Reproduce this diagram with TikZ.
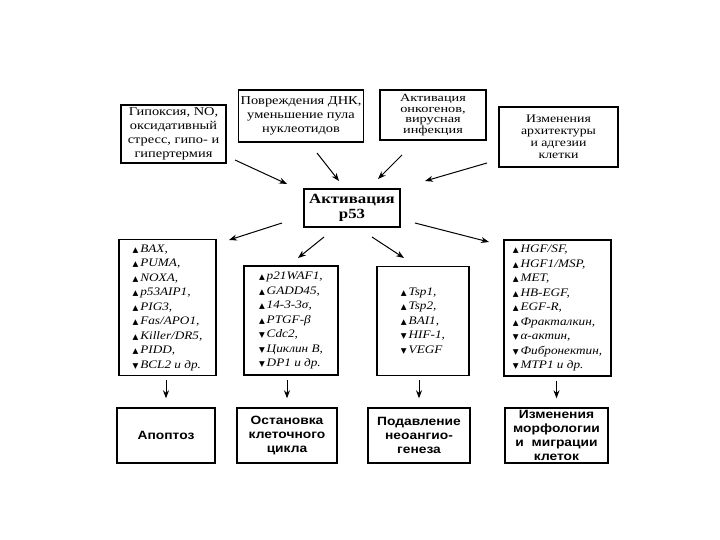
\documentclass[tikz,border=0pt]{standalone}
\usepackage{fontspec}
\setmainfont{Liberation Serif}
\newfontfamily\ser[FakeStretch=1.2]{Liberation Serif}
\newfontfamily\serw[FakeStretch=1.3]{Liberation Serif}
\newfontfamily\seri[FakeStretch=1.15]{Liberation Serif}
\newfontfamily\sanb[FakeStretch=1.15]{Liberation Sans}
\newfontfamily\symf{DejaVu Sans}
\usetikzlibrary{arrows.meta}
\newcommand{\mup}{{\symf\fontsize{7.5}{7.5}\selectfont ▲}\,}
\newcommand{\mdn}{{\symf\fontsize{7.5}{7.5}\selectfont ▼}\,}
\begin{document}
\begin{tikzpicture}[x=1pt,y=-1pt,
  box/.style={draw, line width=1.4pt, inner sep=2pt, align=center},
  topf/.style={font=\ser\fontsize{12}{14}\selectfont},
  listbox/.style={box, align=left, font=\seri\itshape\fontsize{11.5}{14.5}\selectfont},
  resbox/.style={box, minimum height=55pt, font=\sanb\bfseries\fontsize{12}{14}\selectfont},
  arr/.style={-{Stealth[length=8pt,width=6pt]}, line width=1pt}]
\useasboundingbox[fill=white] (0,0) rectangle (720,540);

% top boxes
\node[box, topf, minimum width=105pt, minimum height=58pt] (t1) at (173.5,134)
  {Гипоксия, NO,\\оксидативный\\стресс, гипо- и\\гипертермия};
\node[box, topf, minimum width=122pt, minimum height=52pt] (t2) at (301,116)
  {Повреждения ДНК,\\уменьшение пула\\нуклеотидов};
\node[box, font=\serw\fontsize{11}{10.5}\selectfont, minimum width=106pt, minimum height=50pt] (t3) at (433,115)
  {Активация\\онкогенов,\\вирусная\\инфекция};
\node[box, font=\ser\fontsize{11.5}{12}\selectfont, minimum width=119pt, minimum height=60pt] (t4) at (558.5,137)
  {Изменения\\архитектуры\\и адгезии\\клетки};

% center
\node[box, font=\ser\bfseries\fontsize{14}{15}\selectfont, minimum width=96pt, minimum height=38pt] (c) at (352,208)
  {Активация\\p53};

% list boxes
\node[listbox, minimum width=97pt, minimum height=136pt] (A) at (167.5,307.5)
  {\mup BAX,\\\mup PUMA,\\\mup NOXA,\\\mup p53AIP1,\\\mup PIG3,\\\mup Fas/APO1,\\\mup Killer/DR5,\\\mup PIDD,\\\mdn BCL2 и др.};
\node[listbox, minimum width=94pt, minimum height=109pt] (B) at (291,320.5)
  {\mup p21WAF1,\\\mup GADD45,\\\mup 14-3-3σ,\\\mup PTGF-β\\\mdn Cdc2,\\\mdn Циклин B,\\\mdn DP1 и др.};
\node[listbox, minimum width=92pt, minimum height=109pt] (C) at (423,321)
  {\mup Tsp1,\\\mup Tsp2,\\\mup BAI1,\\\mdn HIF-1,\\\mdn VEGF};
\node[listbox, minimum width=107pt, minimum height=136pt] (D) at (557.5,308)
  {\mup HGF/SF,\\\mup HGF1/MSP,\\\mup MET,\\\mup HB-EGF,\\\mup EGF-R,\\\mup Фракталкин,\\\mdn α-актин,\\\mdn Фибронектин,\\\mdn MTP1 и др.};

% result boxes
\node[resbox, minimum width=98pt] (r1) at (166,435.5) {Апоптоз};
\node[resbox, minimum width=100pt] (r2) at (287,435.5) {Остановка\\клеточного\\цикла};
\node[resbox, minimum width=102pt] (r3) at (419,435.5) {Подавление\\неоангио-\\генеза};
\node[resbox, minimum width=103pt] (r4) at (556.5,435.5) {Изменения\\морфологии\\и \ миграции\\клеток};

% arrows into center
\coordinate (i1s) at (235,160); \coordinate (i1e) at (287,184);
\coordinate (i2s) at (317,153); \coordinate (i2e) at (339,181);
\coordinate (i3s) at (402,155); \coordinate (i3e) at (378,179);
\coordinate (i4s) at (487,163); \coordinate (i4e) at (425,181);
\draw[arr] (i1s) -- (i1e);
\draw[arr] (i2s) -- (i2e);
\draw[arr] (i3s) -- (i3e);
\draw[arr] (i4s) -- (i4e);

% arrows out of center
\coordinate (o1s) at (282,223); \coordinate (o1e) at (229,240);
\coordinate (o2s) at (324,237); \coordinate (o2e) at (298,258);
\coordinate (o3s) at (372,237); \coordinate (o3e) at (404,258);
\coordinate (o4s) at (415,223); \coordinate (o4e) at (489,242);
\draw[arr] (o1s) -- (o1e);
\draw[arr] (o2s) -- (o2e);
\draw[arr] (o3s) -- (o3e);
\draw[arr] (o4s) -- (o4e);

% arrows down
\draw[arr, shorten <=4pt, shorten >=9pt] (A.south -| r1.north) -- (r1.north);
\draw[arr, shorten <=4pt, shorten >=9pt] (B.south -| r2.north) -- (r2.north);
\draw[arr, shorten <=4pt, shorten >=9pt] (C.south -| r3.north) -- (r3.north);
\draw[arr, shorten <=4pt, shorten >=9pt] (D.south -| r4.north) -- (r4.north);
\end{tikzpicture}
\end{document}
